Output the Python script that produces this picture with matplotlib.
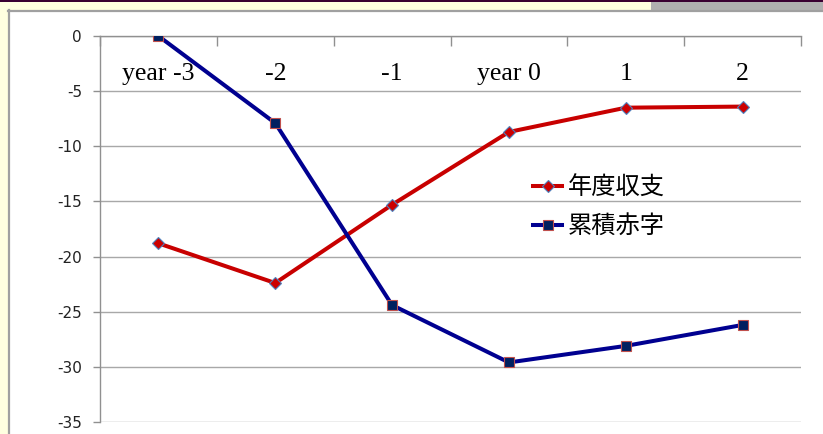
import matplotlib
matplotlib.use("Agg")
import matplotlib.pyplot as plt
from matplotlib.patches import Rectangle
from matplotlib.lines import Line2D

categories = ["year -3", "-2", "-1", "year 0", "1", "2"]
annual_balance = [-18.8, -22.4, -15.3, -8.7, -6.5, -6.4]
cumulative_deficit = [0.0, -7.9, -24.4, -29.6, -28.1, -26.2]
series_names = ["年度収支", "累積赤字"]
y_ticks = [0, -5, -10, -15, -20, -25, -30, -35]

plt.rcParams['font.family'] = ['DejaVu Sans']

W, H = 823, 434
fig = plt.figure(figsize=(W / 100, H / 100), dpi=100, facecolor="white")

def fx(px):
    return px / W

def fy(py):
    return 1 - py / H

# slide decorations
fig.patches.append(Rectangle((0, fy(10)), fx(651), fy(1) - fy(10), transform=fig.transFigure,
                             facecolor="#FFFFE0", edgecolor="none", zorder=0))
fig.patches.append(Rectangle((fx(651), fy(10)), 1 - fx(651), fy(1) - fy(10), transform=fig.transFigure,
                             facecolor="#B0B0B0", edgecolor="none", zorder=0))
fig.patches.append(Rectangle((0, fy(1.5)), 1, fy(0) - fy(1.5), transform=fig.transFigure,
                             facecolor="#3A0032", edgecolor="none", zorder=1))
fig.patches.append(Rectangle((0, 0), fx(8), fy(10), transform=fig.transFigure,
                             facecolor="#FFFFE0", edgecolor="none", zorder=0))
fig.lines.append(Line2D([fx(9), fx(9)], [0, fy(10)], transform=fig.transFigure,
                        color="#A0A0A0", lw=1.6))
fig.lines.append(Line2D([fx(8), 1], [fy(11), fy(11)], transform=fig.transFigure,
                        color="#A0A0A0", lw=1.6))

ax = fig.add_axes([fx(100), fy(422), fx(801) - fx(100), fy(36) - fy(422)])
ax.set_facecolor("white")

x = list(range(len(categories)))
ax.plot(x, annual_balance, color="#C80000", lw=2.9, marker="D", markersize=6.2,
        markerfacecolor="#CC0000", markeredgecolor="#4F81BD", markeredgewidth=0.8,
        label=series_names[0], zorder=3)
ax.plot(x, cumulative_deficit, color="#000090", lw=2.9, marker="s", markersize=6.6,
        markerfacecolor="#002060", markeredgecolor="#C0504D", markeredgewidth=0.8,
        label=series_names[1], zorder=4)

ax.set_xlim(-0.5, len(categories) - 0.5)
ax.set_ylim(-35, 0)
ax.set_yticks(y_ticks)
ax.set_yticklabels([str(v) for v in y_ticks], fontsize=11, color="#222222")
ax.yaxis.grid(True, color="#A8A8A8", lw=1.0)
ax.set_axisbelow(True)

for s in ["right", "bottom"]:
    ax.spines[s].set_visible(False)
ax.spines["left"].set_color("#909090")
ax.spines["top"].set_color("#909090")
ax.spines["left"].set_linewidth(1.0)
ax.spines["top"].set_linewidth(1.0)

ax.tick_params(axis="y", direction="out", length=5, width=1, color="#909090", pad=8)

# x axis on top, category labels below the axis line
ax.xaxis.set_ticks_position("top")
ax.set_xticks(x)
ax.set_xticklabels(categories, fontsize=18.5, family="Liberation Serif", color="black")
ax.tick_params(axis="x", which="major", top=True, bottom=False, labeltop=True,
               labelbottom=False, length=0, pad=-35)
ax.set_xticks([i - 0.5 for i in range(len(categories) + 1)], minor=True)
ax.tick_params(axis="x", which="minor", top=True, bottom=False, direction="in",
               length=7, width=1, color="#909090")

leg = ax.legend(loc="center left", bbox_to_anchor=(fx(533), fy(207)),
                bbox_transform=fig.transFigure, frameon=False, borderpad=0,
                borderaxespad=0, handlelength=1.2, handletextpad=0.22,
                labelspacing=0.5, prop={"family": ["Noto Sans CJK JP", "DejaVu Sans"], "size": 17.5})

fig.savefig("out.png", dpi=100, facecolor="white")
